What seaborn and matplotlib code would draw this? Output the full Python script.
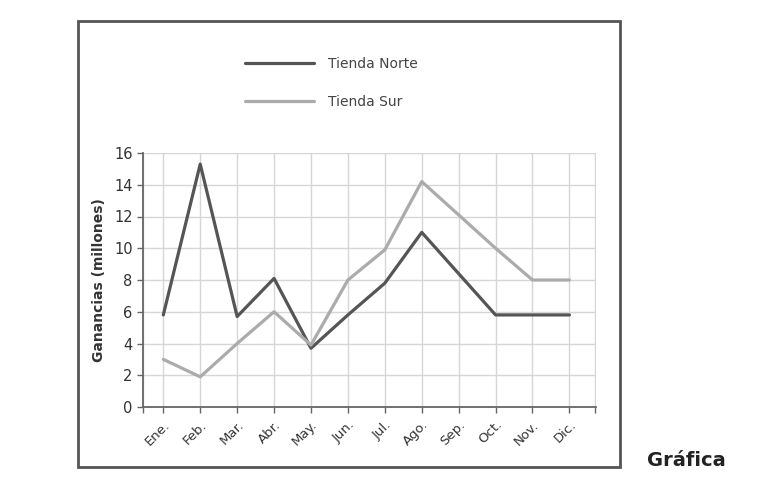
import matplotlib
matplotlib.use("Agg")
import matplotlib.pyplot as plt
from matplotlib.patches import Rectangle
from matplotlib.lines import Line2D
import seaborn as sns
import pandas as pd
import numpy as np

meses = ["Ene.", "Feb.", "Mar.", "Abr.", "May.", "Jun.", "Jul.", "Ago.", "Sep.", "Oct.", "Nov.", "Dic."]
norte = [5.8, 15.3, 5.7, 8.1, 3.7, 5.8, 7.8, 11.0, 8.4, 5.8, 5.8, 5.8]
sur = [3.0, 1.9, 4.0, 6.0, 3.9, 8.0, 9.9, 14.2, 12.1, 10.0, 8.0, 8.0]
series = ["Tienda Norte", "Tienda Sur"]
colores = ["#555555", "#ababab"]
yticks = [0, 2, 4, 6, 8, 10, 12, 14, 16]

df = pd.DataFrame({
    "x": list(range(len(meses))) * 2,
    "valor": norte + sur,
    "serie": [series[0]] * len(meses) + [series[1]] * len(meses),
})

sns.set_theme(style="white")
plt.rcParams['font.family'] = ['DejaVu Sans']

fig = plt.figure(figsize=(7.62, 4.91), dpi=100)
ax = fig.add_axes([143/762, 1 - 407/491, (596-143)/762, (407-153)/491])

sns.lineplot(data=df, x="x", y="valor", hue="serie", palette=colores,
             linewidth=2.3, ax=ax, legend=False, sort=False)

ax.set_xlim(-0.55, 11.72)
ax.set_ylim(0, 16)
ax.set_xticks(range(len(meses)))
ax.set_xticklabels(meses, rotation=45, ha="right", rotation_mode="anchor",
                   fontsize=9.5, color="#333333")
ax.set_xticks([-0.55, 11.70], minor=True)
ax.set_yticks(yticks)
ax.set_yticklabels([str(v) for v in yticks], fontsize=10.5, color="#333333")
ax.tick_params(axis="both", which="both", direction="out", length=4, width=1,
               color="#666666", bottom=True, left=True)
ax.tick_params(axis="x", pad=4)
ax.grid(True, which="major", color="#d6d6d6", linewidth=1)
ax.grid(True, which="minor", axis="x", color="#d6d6d6", linewidth=1)
ax.set_axisbelow(True)
for s in ["top", "right"]:
    ax.spines[s].set_visible(False)
for s in ["left", "bottom"]:
    ax.spines[s].set_color("#666666")
    ax.spines[s].set_linewidth(1.3)
ax.set_xlabel("")
ax.set_ylabel("Ganancias (millones)", fontsize=10, fontweight="bold", color="#333333", labelpad=6)

handles = [Line2D([0], [0], color=c, linewidth=2.3) for c in colores]
fig.legend(handles, series, loc="upper left", bbox_to_anchor=(232/762, 1 - 44/491),
           frameon=False, fontsize=10, handlelength=5.0, labelspacing=1.75,
           handletextpad=1.0, labelcolor="#444444")

fig.patches.append(Rectangle((78/762, 1 - 467/491), (620-78)/762, (467-21)/491,
                             transform=fig.transFigure, fill=False,
                             edgecolor="#555555", linewidth=2))
fig.text(647/762, 1 - 460/491, "Gráfica", fontsize=14, fontweight="bold",
         color="#222222", ha="left", va="center")

fig.savefig("out.png", dpi=100, facecolor="white")
